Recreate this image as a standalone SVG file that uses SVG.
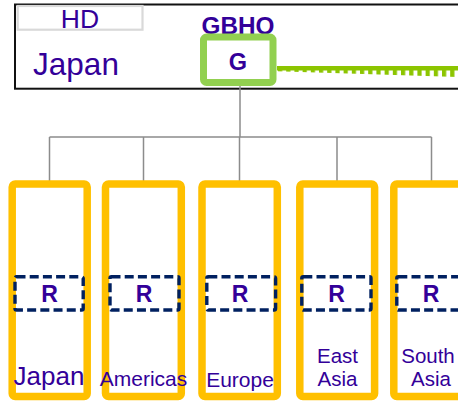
<svg xmlns="http://www.w3.org/2000/svg" width="458" height="401" viewBox="0 0 458 401">
<style>
  .t { font-family: "Liberation Sans", Arial, sans-serif; fill: #330099; text-anchor: middle; }
  .b { font-weight: bold; }
  .region { fill: #ffffff; stroke: #FFC000; stroke-width: 7.5; }
  .rbox { fill: none; stroke: #002060; stroke-width: 3.4; stroke-dasharray: 9 4.2; }
  .conn { fill: none; stroke: #8c8c8c; stroke-width: 1.5; }
</style>
<defs>
  <pattern id="ticks" patternUnits="userSpaceOnUse" x="278" y="0" width="8.2" height="100">
    <rect x="0" y="0" width="4.2" height="100" fill="#8CC500"/>
  </pattern>
</defs>
<rect width="458" height="401" fill="#ffffff"/>

<g id="hq-frame">
  <rect x="15" y="4.5" width="460" height="84.2" fill="#ffffff" stroke="#111111" stroke-width="2"/>
  <rect x="17.7" y="6" width="124.8" height="23.7" fill="#ffffff" stroke="#d9d9d9" stroke-width="2.2"/>
  <text class="t" x="80" y="28.3" font-size="26.5">HD</text>
  <text class="t" x="76" y="74.5" font-size="31.5">Japan</text>
</g>

<g id="gbhq">
  <text class="t b" x="238" y="33.5" font-size="23" textLength="73" lengthAdjust="spacingAndGlyphs">GBHQ</text>
  <rect x="203.5" y="37" width="69.5" height="45.5" rx="3" fill="#ffffff" stroke="#92D050" stroke-width="7"/>
  <text class="t b" x="238" y="69.5" font-size="23.5">G</text>
</g>

<g id="green-link">
  <line x1="277" y1="68.3" x2="460" y2="68.3" stroke="#8CC500" stroke-width="4.5"/>
  <polygon points="277,70 460,70 460,77 277,71.3" fill="url(#ticks)"/>
</g>

<g id="connectors">
  <path class="conn" d="M240,86 V137 M49.5,137 H431.5 M49.5,137 V183 M143.5,137 V183 M239.5,137 V183 M337,137 V183 M431.5,137 V183"/>
</g>

<g id="japan">
  <rect class="region" x="12.2" y="184" width="75" height="212.5" rx="3"/>
  <rect class="rbox" x="15" y="276.8" width="68.2" height="33.2" rx="1.5"/>
  <text class="t b" x="49.5" y="302" font-size="23">R</text>
  <text class="t" x="49" y="385" font-size="26">Japan</text>
</g>

<g id="americas">
  <rect class="region" x="105.5" y="184" width="75.8" height="212.5" rx="3"/>
  <rect class="rbox" x="110" y="276.8" width="69" height="33.2" rx="1.5"/>
  <text class="t b" x="144" y="302" font-size="23">R</text>
  <text class="t" x="143.5" y="385.5" font-size="21">Americas</text>
</g>

<g id="europe">
  <rect class="region" x="202" y="184" width="75.3" height="212.5" rx="3"/>
  <rect class="rbox" x="206.8" y="276.8" width="68.8" height="33.2" rx="1.5"/>
  <text class="t b" x="240" y="302" font-size="23">R</text>
  <text class="t" x="240" y="386.5" font-size="21">Europe</text>
</g>

<g id="east-asia">
  <rect class="region" x="299.8" y="184" width="74.8" height="212.5" rx="3"/>
  <rect class="rbox" x="301.8" y="276.8" width="69.2" height="33.2" rx="1.5"/>
  <text class="t b" x="336.5" y="302" font-size="23">R</text>
  <text class="t" x="337.5" y="363.3" font-size="20.5">East</text>
  <text class="t" x="337.5" y="386" font-size="20.5">Asia</text>
</g>

<g id="south-asia">
  <rect class="region" x="393.8" y="184" width="75.5" height="212.5" rx="3"/>
  <rect class="rbox" x="396.8" y="276.8" width="69.2" height="33.2" rx="1.5"/>
  <text class="t b" x="431" y="302" font-size="23">R</text>
  <text class="t" x="428" y="363.3" font-size="20.5">South</text>
  <text class="t" x="431" y="386" font-size="20.5">Asia</text>
</g>
</svg>
